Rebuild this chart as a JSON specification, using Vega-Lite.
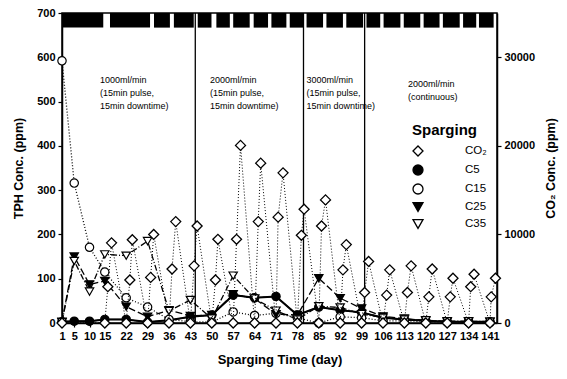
{
  "$schema": "https://vega.github.io/schema/vega-lite/v6.json",
  "width": 435,
  "height": 310,
  "autosize": {"type": "none"},
  "padding": {"left": 62, "top": 13, "right": 70, "bottom": 56},
  "background": "white",
  "config": {
    "font": "Liberation Sans, DejaVu Sans",
    "view": {"stroke": "black", "strokeWidth": 1.5},
    "axis": {
      "grid": false, "domainColor": "black", "domainWidth": 1.5,
      "tickColor": "black", "tickSize": 4, "tickWidth": 1.2,
      "labelColor": "black", "labelFontSize": 11, "labelFontWeight": "bold", "labelPadding": 3,
      "titleColor": "black", "titleFontSize": 12.5, "titleFontWeight": "bold"
    },
    "axisX": {"labelOverlap": false},
    "legend": {"rowPadding": 3}
  },
  "datasets": {
    "pulses": [
      {"start": 1, "end": 14.5}, {"start": 16.7, "end": 29.8}, {"start": 31.1, "end": 36.3},
      {"start": 37.6, "end": 44.1}, {"start": 45.4, "end": 49.9}, {"start": 51.5, "end": 55.9},
      {"start": 57, "end": 62.4}, {"start": 63.7, "end": 68.4}, {"start": 69.5, "end": 74.4},
      {"start": 75.5, "end": 79.9}, {"start": 81, "end": 86.4}, {"start": 87.5, "end": 92.9},
      {"start": 94, "end": 99.5}, {"start": 100.6, "end": 105.1}, {"start": 106.2, "end": 111.7},
      {"start": 112.8, "end": 118.2}, {"start": 119.3, "end": 124.5}, {"start": 125.6, "end": 131.1},
      {"start": 132.2, "end": 136.5}, {"start": 137.4, "end": 142.2}
    ],
    "stages": [{"day": 44.6}, {"day": 80}, {"day": 100}],
    "notes": [
      {"day": 13.4, "v": 558, "text": "1000ml/min\n(15min pulse,\n15min downtime)"},
      {"day": 49.4, "v": 558, "text": "2000ml/min\n(15min pulse,\n15min downtime)"},
      {"day": 81, "v": 558, "text": "3000ml/min\n(15min pulse,\n15min downtime)"},
      {"day": 114.2, "v": 549, "text": "2000ml/min\n(continuous)"}
    ],
    "tph": [
      {"day": 1, "series": "C5", "value": 3}, {"day": 5, "series": "C5", "value": 4}, {"day": 10, "series": "C5", "value": 4},
      {"day": 15, "series": "C5", "value": 8}, {"day": 22, "series": "C5", "value": 8}, {"day": 29, "series": "C5", "value": 2},
      {"day": 36, "series": "C5", "value": 6}, {"day": 43, "series": "C5", "value": 14}, {"day": 50, "series": "C5", "value": 18},
      {"day": 57, "series": "C5", "value": 63}, {"day": 64, "series": "C5", "value": 57}, {"day": 71, "series": "C5", "value": 60},
      {"day": 78, "series": "C5", "value": 18}, {"day": 85, "series": "C5", "value": 36}, {"day": 92, "series": "C5", "value": 29},
      {"day": 99, "series": "C5", "value": 24}, {"day": 106, "series": "C5", "value": 12}, {"day": 113, "series": "C5", "value": 8},
      {"day": 120, "series": "C5", "value": 5}, {"day": 127, "series": "C5", "value": 3}, {"day": 134, "series": "C5", "value": 3},
      {"day": 141, "series": "C5", "value": 3},
      {"day": 1, "series": "C15", "value": 592}, {"day": 5, "series": "C15", "value": 316}, {"day": 10, "series": "C15", "value": 171},
      {"day": 15, "series": "C15", "value": 115}, {"day": 22, "series": "C15", "value": 57}, {"day": 29, "series": "C15", "value": 36},
      {"day": 36, "series": "C15", "value": 8}, {"day": 43, "series": "C15", "value": 3}, {"day": 50, "series": "C15", "value": 2},
      {"day": 57, "series": "C15", "value": 25}, {"day": 64, "series": "C15", "value": 17}, {"day": 71, "series": "C15", "value": 22},
      {"day": 78, "series": "C15", "value": 12}, {"day": 85, "series": "C15", "value": 0}, {"day": 92, "series": "C15", "value": 14},
      {"day": 99, "series": "C15", "value": 12}, {"day": 106, "series": "C15", "value": 5}, {"day": 113, "series": "C15", "value": 5},
      {"day": 120, "series": "C15", "value": 3}, {"day": 127, "series": "C15", "value": 2}, {"day": 134, "series": "C15", "value": 2},
      {"day": 141, "series": "C15", "value": 1},
      {"day": 1, "series": "C25", "value": 3}, {"day": 5, "series": "C25", "value": 150}, {"day": 10, "series": "C25", "value": 87},
      {"day": 15, "series": "C25", "value": 95}, {"day": 22, "series": "C25", "value": 37}, {"day": 29, "series": "C25", "value": 14},
      {"day": 36, "series": "C25", "value": 29}, {"day": 43, "series": "C25", "value": 16}, {"day": 50, "series": "C25", "value": 18},
      {"day": 57, "series": "C25", "value": 65}, {"day": 64, "series": "C25", "value": 55}, {"day": 71, "series": "C25", "value": 20},
      {"day": 78, "series": "C25", "value": 18}, {"day": 85, "series": "C25", "value": 101}, {"day": 92, "series": "C25", "value": 56},
      {"day": 99, "series": "C25", "value": 33}, {"day": 106, "series": "C25", "value": 15}, {"day": 113, "series": "C25", "value": 10},
      {"day": 120, "series": "C25", "value": 5}, {"day": 127, "series": "C25", "value": 3}, {"day": 134, "series": "C25", "value": 3},
      {"day": 141, "series": "C25", "value": 3},
      {"day": 1, "series": "C35", "value": 2}, {"day": 5, "series": "C35", "value": 140}, {"day": 10, "series": "C35", "value": 71},
      {"day": 15, "series": "C35", "value": 155}, {"day": 22, "series": "C35", "value": 152}, {"day": 29, "series": "C35", "value": 185},
      {"day": 36, "series": "C35", "value": 27}, {"day": 43, "series": "C35", "value": 52}, {"day": 50, "series": "C35", "value": 10},
      {"day": 57, "series": "C35", "value": 107}, {"day": 64, "series": "C35", "value": 55}, {"day": 71, "series": "C35", "value": 28},
      {"day": 78, "series": "C35", "value": 8}, {"day": 85, "series": "C35", "value": 38}, {"day": 92, "series": "C35", "value": 35},
      {"day": 99, "series": "C35", "value": 20}, {"day": 106, "series": "C35", "value": 12}, {"day": 113, "series": "C35", "value": 8},
      {"day": 120, "series": "C35", "value": 6}, {"day": 127, "series": "C35", "value": 4}, {"day": 134, "series": "C35", "value": 4},
      {"day": 141, "series": "C35", "value": 3}
    ],
    "co2": [
      {"day": 1, "co2": 0, "series": "CO₂"}, {"day": 15, "co2": 0, "series": "CO₂"},
      {"day": 16, "co2": 4100, "series": "CO₂"}, {"day": 17.2, "co2": 9050, "series": "CO₂"},
      {"day": 22, "co2": 0, "series": "CO₂"}, {"day": 23.2, "co2": 4850, "series": "CO₂"}, {"day": 24, "co2": 9400, "series": "CO₂"},
      {"day": 29, "co2": 0, "series": "CO₂"}, {"day": 30, "co2": 5150, "series": "CO₂"}, {"day": 31, "co2": 10000, "series": "CO₂"},
      {"day": 36, "co2": 0, "series": "CO₂"}, {"day": 37, "co2": 6100, "series": "CO₂"}, {"day": 38.2, "co2": 11450, "series": "CO₂"},
      {"day": 43, "co2": 0, "series": "CO₂"}, {"day": 44.2, "co2": 6450, "series": "CO₂"}, {"day": 45.2, "co2": 10950, "series": "CO₂"},
      {"day": 50, "co2": 0, "series": "CO₂"}, {"day": 51.2, "co2": 4850, "series": "CO₂"}, {"day": 52, "co2": 9450, "series": "CO₂"},
      {"day": 57, "co2": 0, "series": "CO₂"}, {"day": 58.1, "co2": 9450, "series": "CO₂"}, {"day": 59.4, "co2": 20050, "series": "CO₂"},
      {"day": 64, "co2": 0, "series": "CO₂"}, {"day": 65.2, "co2": 11450, "series": "CO₂"}, {"day": 66, "co2": 18050, "series": "CO₂"},
      {"day": 71, "co2": 0, "series": "CO₂"}, {"day": 71.7, "co2": 11950, "series": "CO₂"}, {"day": 73.3, "co2": 16950, "series": "CO₂"},
      {"day": 78, "co2": 0, "series": "CO₂"}, {"day": 79.3, "co2": 9900, "series": "CO₂"}, {"day": 80.2, "co2": 12850, "series": "CO₂"},
      {"day": 85, "co2": 0, "series": "CO₂"}, {"day": 85.9, "co2": 10950, "series": "CO₂"}, {"day": 87.2, "co2": 13900, "series": "CO₂"},
      {"day": 92, "co2": 0, "series": "CO₂"}, {"day": 92.9, "co2": 6000, "series": "CO₂"}, {"day": 94, "co2": 8850, "series": "CO₂"},
      {"day": 99, "co2": 0, "series": "CO₂"}, {"day": 100, "co2": 3450, "series": "CO₂"}, {"day": 101.3, "co2": 6950, "series": "CO₂"},
      {"day": 106, "co2": 0, "series": "CO₂"}, {"day": 107.2, "co2": 3150, "series": "CO₂"}, {"day": 108.2, "co2": 6000, "series": "CO₂"},
      {"day": 113, "co2": 0, "series": "CO₂"}, {"day": 114, "co2": 3450, "series": "CO₂"}, {"day": 115.2, "co2": 6450, "series": "CO₂"},
      {"day": 120, "co2": 0, "series": "CO₂"}, {"day": 121, "co2": 2950, "series": "CO₂"}, {"day": 122.1, "co2": 6100, "series": "CO₂"},
      {"day": 127, "co2": 0, "series": "CO₂"}, {"day": 128, "co2": 2950, "series": "CO₂"}, {"day": 128.9, "co2": 5050, "series": "CO₂"},
      {"day": 134, "co2": 0, "series": "CO₂"}, {"day": 134.7, "co2": 4100, "series": "CO₂"}, {"day": 135.8, "co2": 5500, "series": "CO₂"},
      {"day": 141, "co2": 0, "series": "CO₂"}, {"day": 141.4, "co2": 2950, "series": "CO₂"}, {"day": 142.8, "co2": 5050, "series": "CO₂"}
    ]
  },
  "layer": [
    {
      "layer": [
        {
          "data": {"name": "pulses"},
          "mark": {"type": "rect", "color": "black"},
          "encoding": {
            "x": {"field": "start", "type": "quantitative", "scale": {"domain": [1, 143.3], "nice": false, "zero": false},
              "axis": {"title": "Sparging Time (day)", "values": [1, 5, 10, 15, 22, 29, 36, 43, 50, 57, 64, 71, 78, 85, 92, 99, 106, 113, 120, 127, 134, 141],
                "labelFlush": false, "labelOverlap": false, "titlePadding": 12, "titleFontSize": 13}},
            "x2": {"field": "end"},
            "y": {"datum": 667, "type": "quantitative", "scale": {"domain": [0, 700], "nice": false},
              "axis": {"title": "TPH Conc. (ppm)", "values": [0, 100, 200, 300, 400, 500, 600, 700], "titlePadding": 11}},
            "y2": {"datum": 700}
          }
        },
        {
          "data": {"name": "stages"},
          "mark": {"type": "rule", "color": "black", "strokeWidth": 1.3},
          "encoding": {
            "x": {"field": "day", "type": "quantitative",
              "axis": {"title": "Sparging Time (day)", "values": [1, 5, 10, 15, 22, 29, 36, 43, 50, 57, 64, 71, 78, 85, 92, 99, 106, 113, 120, 127, 134, 141],
                "labelFlush": false, "labelOverlap": false, "titlePadding": 12, "titleFontSize": 13}}
          }
        },
        {
          "data": {"name": "tph"},
          "mark": {"type": "line", "color": "black", "strokeWidth": 1.3},
          "encoding": {
            "x": {"field": "day", "type": "quantitative",
              "axis": {"title": "Sparging Time (day)", "values": [1, 5, 10, 15, 22, 29, 36, 43, 50, 57, 64, 71, 78, 85, 92, 99, 106, 113, 120, 127, 134, 141],
                "labelFlush": false, "labelOverlap": false, "titlePadding": 12, "titleFontSize": 13}},
            "y": {"field": "value", "type": "quantitative",
              "axis": {"title": "TPH Conc. (ppm)", "values": [0, 100, 200, 300, 400, 500, 600, 700], "titlePadding": 11}},
            "strokeDash": {"field": "series", "type": "nominal",
              "scale": {"domain": ["C5", "C15", "C25", "C35"], "range": [[1, 0], [1, 2], [7, 3], [6, 2, 1, 2]]},
              "legend": null}
          }
        },
        {
          "data": {"name": "tph"},
          "transform": [{"filter": "datum.series === 'C5'"}],
          "mark": {"type": "line", "color": "black", "strokeWidth": 2},
          "encoding": {
            "x": {"field": "day", "type": "quantitative",
              "axis": {"title": "Sparging Time (day)", "values": [1, 5, 10, 15, 22, 29, 36, 43, 50, 57, 64, 71, 78, 85, 92, 99, 106, 113, 120, 127, 134, 141],
                "labelFlush": false, "labelOverlap": false, "titlePadding": 12, "titleFontSize": 13}},
            "y": {"field": "value", "type": "quantitative",
              "axis": {"title": "TPH Conc. (ppm)", "values": [0, 100, 200, 300, 400, 500, 600, 700], "titlePadding": 11}}
          }
        },
        {
          "data": {"name": "tph"},
          "mark": {"type": "point", "filled": true, "strokeWidth": 1.2, "size": 70, "opacity": 1},
          "encoding": {
            "x": {"field": "day", "type": "quantitative",
              "axis": {"title": "Sparging Time (day)", "values": [1, 5, 10, 15, 22, 29, 36, 43, 50, 57, 64, 71, 78, 85, 92, 99, 106, 113, 120, 127, 134, 141],
                "labelFlush": false, "labelOverlap": false, "titlePadding": 12, "titleFontSize": 13}},
            "y": {"field": "value", "type": "quantitative",
              "axis": {"title": "TPH Conc. (ppm)", "values": [0, 100, 200, 300, 400, 500, 600, 700], "titlePadding": 11}},
            "shape": {"field": "series", "type": "nominal",
              "scale": {"domain": ["CO₂", "C5", "C15", "C25", "C35"], "range": ["diamond", "circle", "circle", "triangle-down", "triangle-down"]},
              "legend": {
                "title": "Sparging", "orient": "none", "legendX": 350, "legendY": 110, "padding": 0,
                "titleFontSize": 15, "titleFontWeight": "bold", "titleColor": "black", "titleAnchor": "start", "titlePadding": 7,
                "labelFontSize": 11.5, "labelColor": "black", "labelOffset": 41,
                "symbolSize": 100, "symbolStrokeWidth": 1.3, "rowPadding": 3
              }},
            "fill": {"field": "series", "type": "nominal",
              "scale": {"domain": ["CO₂", "C5", "C15", "C25", "C35"], "range": ["white", "black", "white", "black", "white"]},
              "legend": {
                "title": "Sparging", "orient": "none", "legendX": 350, "legendY": 110, "padding": 0,
                "titleFontSize": 15, "titleFontWeight": "bold", "titleColor": "black", "titleAnchor": "start", "titlePadding": 7,
                "labelFontSize": 11.5, "labelColor": "black", "labelOffset": 41,
                "symbolSize": 100, "symbolStrokeWidth": 1.3, "rowPadding": 3
              }},
            "stroke": {"field": "series", "type": "nominal",
              "scale": {"domain": ["CO₂", "C5", "C15", "C25", "C35"], "range": ["black", "black", "black", "black", "black"]},
              "legend": {
                "title": "Sparging", "orient": "none", "legendX": 350, "legendY": 110, "padding": 0,
                "titleFontSize": 15, "titleFontWeight": "bold", "titleColor": "black", "titleAnchor": "start", "titlePadding": 7,
                "labelFontSize": 11.5, "labelColor": "black", "labelOffset": 41,
                "symbolSize": 100, "symbolStrokeWidth": 1.3, "rowPadding": 3
              }}
          }
        },
        {
          "data": {"name": "notes"},
          "mark": {"type": "text", "align": "left", "baseline": "top", "fontSize": 9, "lineHeight": 13, "lineBreak": "\n", "color": "black"},
          "encoding": {
            "x": {"field": "day", "type": "quantitative",
              "axis": {"title": "Sparging Time (day)", "values": [1, 5, 10, 15, 22, 29, 36, 43, 50, 57, 64, 71, 78, 85, 92, 99, 106, 113, 120, 127, 134, 141],
                "labelFlush": false, "labelOverlap": false, "titlePadding": 12, "titleFontSize": 13}},
            "y": {"field": "v", "type": "quantitative",
              "axis": {"title": "TPH Conc. (ppm)", "values": [0, 100, 200, 300, 400, 500, 600, 700], "titlePadding": 11}},
            "text": {"field": "text"}
          }
        }
      ]
    },
    {
      "data": {"name": "co2"},
      "layer": [
        {
          "mark": {"type": "line", "color": "black", "strokeWidth": 1, "strokeDash": [1, 2]},
          "encoding": {
            "x": {"field": "day", "type": "quantitative",
              "axis": {"title": "Sparging Time (day)", "values": [1, 5, 10, 15, 22, 29, 36, 43, 50, 57, 64, 71, 78, 85, 92, 99, 106, 113, 120, 127, 134, 141],
                "labelFlush": false, "labelOverlap": false, "titlePadding": 12, "titleFontSize": 13}},
            "y": {"field": "co2", "type": "quantitative", "scale": {"domain": [0, 35000], "nice": false},
              "axis": {"orient": "right", "title": "CO₂ Conc. (ppm)", "values": [0, 10000, 20000, 30000], "format": "d",
                "titleAngle": 270, "titleBaseline": "top", "titlePadding": 10}}
          }
        },
        {
          "mark": {"type": "point", "filled": true, "strokeWidth": 1.3, "size": 100, "opacity": 1},
          "encoding": {
            "x": {"field": "day", "type": "quantitative",
              "axis": {"title": "Sparging Time (day)", "values": [1, 5, 10, 15, 22, 29, 36, 43, 50, 57, 64, 71, 78, 85, 92, 99, 106, 113, 120, 127, 134, 141],
                "labelFlush": false, "labelOverlap": false, "titlePadding": 12, "titleFontSize": 13}},
            "y": {"field": "co2", "type": "quantitative",
              "axis": {"orient": "right", "title": "CO₂ Conc. (ppm)", "values": [0, 10000, 20000, 30000], "format": "d",
                "titleAngle": 270, "titleBaseline": "top", "titlePadding": 10}},
            "shape": {"field": "series", "type": "nominal", "legend": null},
            "fill": {"field": "series", "type": "nominal", "legend": null},
            "stroke": {"field": "series", "type": "nominal", "legend": null}
          }
        }
      ]
    }
  ],
  "resolve": {"scale": {"y": "independent"}}
}
